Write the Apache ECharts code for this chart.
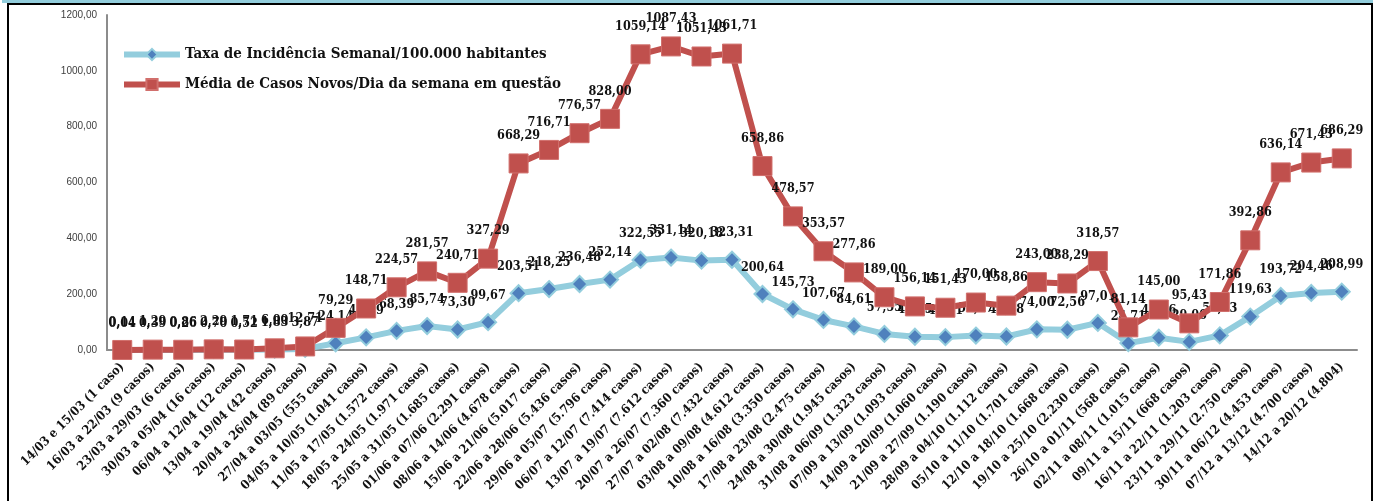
<!DOCTYPE html>
<html>
<head>
<meta charset="utf-8">
<script src="https://cdn.jsdelivr.net/npm/echarts@6/dist/echarts.min.js"></script>
<style>
  html, body { margin: 0; padding: 0; background: #fff; }
  #band { position: absolute; left: 2px; top: 0; width: 1371px; height: 3px; background: #92cddc; }
  #frame { position: absolute; left: 7px; top: 3px; width: 1366px; height: 520px; border: 2px solid #000; box-sizing: border-box; }
  #chart { position: absolute; left: 0; top: 0; width: 1377px; height: 501px; }
</style>
</head>
<body>
<div id="band"></div>
<div id="frame"></div>
<div id="chart"></div>
<script>
// semanas (categorias do eixo x)
var semanas = [
  "14/03 e 15/03 (1 caso)", "16/03 a 22/03 (9 casos)", "23/03 a 29/03 (6 casos)",
  "30/03 a 05/04 (16 casos)", "06/04 a 12/04 (12 casos)", "13/04 a 19/04 (42 casos)",
  "20/04 a 26/04 (89 casos)", "27/04 a 03/05 (555 casos)", "04/05 a 10/05 (1.041 casos)",
  "11/05 a 17/05 (1.572 casos)", "18/05 a 24/05 (1.971 casos)", "25/05 a 31/05 (1.685 casos)",
  "01/06 a 07/06 (2.291 casos)", "08/06 a 14/06 (4.678 casos)", "15/06 a 21/06 (5.017 casos)",
  "22/06 a 28/06 (5.436 casos)", "29/06 a 05/07 (5.796 casos)", "06/07 a 12/07 (7.414 casos)",
  "13/07 a 19/07 (7.612 casos)", "20/07 a 26/07 (7.360 casos)", "27/07 a 02/08 (7.432 casos)",
  "03/08 a 09/08 (4.612 casos)", "10/08 a 16/08 (3.350 casos)", "17/08 a 23/08 (2.475 casos)",
  "24/08 a 30/08 (1.945 casos)", "31/08 a 06/09 (1.323 casos)", "07/09 a 13/09 (1.093 casos)",
  "14/09 a 20/09 (1.060 casos)", "21/09 a 27/09 (1.190 casos)", "28/09 a 04/10 (1.112 casos)",
  "05/10 a 11/10 (1.701 casos)", "12/10 a 18/10 (1.668 casos)", "19/10 a 25/10 (2.230 casos)",
  "26/10 a 01/11 (568 casos)", "02/11 a 08/11 (1.015 casos)", "09/11 a 15/11 (668 casos)",
  "16/11 a 22/11 (1.203 casos)", "23/11 a 29/11 (2.750 casos)", "30/11 a 06/12 (4.453 casos)",
  "07/12 a 13/12 (4.700 casos)", "14/12 a 20/12 (4.804)"
];

// taxa de incidência semanal / 100.000 hab
var taxaIncidencia = [
  0.04, 0.39, 0.26, 0.70, 0.52, 1.83, 3.87, 24.14, 45.29, 68.39,
  85.74, 73.30, 99.67, 203.51, 218.25, 236.48, 252.14, 322.55, 331.14, 320.18,
  323.31, 200.64, 145.73, 107.67, 84.61, 57.55, 47.55, 46.11, 51.77, 48.38,
  74.00, 72.56, 97.01, 24.71, 44.16, 29.06, 52.33, 119.63, 193.72, 204.46,
  208.99
];

// média de casos novos por dia
var mediaCasos = [
  0.14, 1.29, 0.86, 2.29, 1.71, 6.00, 12.71, 79.29, 148.71, 224.57,
  281.57, 240.71, 327.29, 668.29, 716.71, 776.57, 828.00, 1059.14, 1087.43, 1051.43,
  1061.71, 658.86, 478.57, 353.57, 277.86, 189.00, 156.14, 151.43, 170.00, 158.86,
  243.00, 238.29, 318.57, 81.14, 145.00, 95.43, 171.86, 392.86, 636.14, 671.43,
  686.29
];

var nomeTaxa = "Taxa de Incidência Semanal/100.000 habitantes";
var nomeMedia = "Média de Casos Novos/Dia da semana em questão";

var serifBold = "'DejaVu Serif Condensed', 'DejaVu Serif', serif";

function virgula(v, casas) {
  return Number(v).toFixed(casas).replace(".", ",");
}

var chart = echarts.init(document.getElementById("chart"));

var labelStyle = {
  show: true,
  position: "top",
  distance: 11,
  color: "#111",
  fontFamily: serifBold,
  fontWeight: "bold",
  fontSize: 12.5,
  formatter: function(p) { return virgula(p.value, 2); }
};

var option = {
  animation: false,
  legend: {
    orient: "vertical",
    left: 116,
    top: 42,
    itemWidth: 56,
    itemHeight: 14,
    itemGap: 15,
    lineStyle: { width: 6 },
    textStyle: {
      fontFamily: serifBold,
      fontWeight: "bold",
      fontSize: 15,
      color: "#111"
    },
    data: [nomeTaxa, nomeMedia]
  },
  grid: { left: 107, right: 20, top: 15, bottom: 151 },
  xAxis: {
    type: "category",
    data: semanas,
    boundaryGap: true,
    axisLine: { lineStyle: { color: "#8c8c8c", width: 2 } },
    axisTick: { show: false },
    axisLabel: {
      interval: 0,
      rotate: 45,
      margin: 15,
      color: "#111",
      fontFamily: serifBold,
      fontWeight: "bold",
      fontSize: 12.5
    }
  },
  yAxis: {
    type: "value",
    min: 0,
    max: 1200,
    interval: 200,
    splitLine: { show: false },
    axisTick: { show: false },
    axisLine: { show: true, lineStyle: { color: "#8c8c8c", width: 2 } },
    axisLabel: {
      margin: 10,
      color: "#404040",
      fontFamily: "'Liberation Sans', Arial, sans-serif",
      fontSize: 10,
      formatter: function(v) { return virgula(v, 2); }
    }
  },
  series: [
    {
      name: nomeTaxa,
      type: "line",
      data: taxaIncidencia,
      z: 2,
      symbol: "diamond",
      symbolSize: 16,
      lineStyle: { color: "#93cddd", width: 6 },
      itemStyle: { color: "#4f81bd", borderColor: "#93cddd", borderWidth: 2 },
      label: labelStyle
    },
    {
      name: nomeMedia,
      type: "line",
      data: mediaCasos,
      z: 3,
      symbol: "rect",
      symbolSize: 19,
      lineStyle: { color: "#c0504d", width: 6 },
      itemStyle: { color: "#c0504d", borderColor: "#d16f6c", borderWidth: 1 },
      label: labelStyle
    }
  ]
};

chart.setOption(option);
</script>
</body>
</html>
